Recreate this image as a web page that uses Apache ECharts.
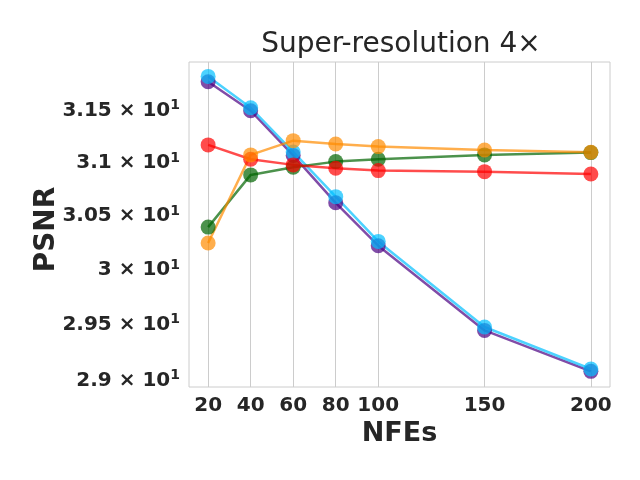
<!DOCTYPE html>
<html>
<head>
<meta charset="utf-8">
<script src="https://cdn.jsdelivr.net/npm/echarts@6/dist/echarts.min.js"></script>
<style>
  html, body { margin: 0; padding: 0; background: #ffffff; }
  #main { width: 640px; height: 480px; }
</style>
</head>
<body>
<div id="main"></div>
<script>
// NFEs on the x axis
var nfes = [20, 40, 60, 80, 100, 150, 200];

// PSNR values (log y axis)
var psnrPurple = [31.757, 31.476, 31.048, 30.600, 30.200, 29.426, 29.059];
var psnrCyan   = [31.809, 31.505, 31.081, 30.658, 30.240, 29.457, 29.080];
var psnrGreen  = [30.373, 30.863, 30.936, 30.989, 31.012, 31.053, 31.075];
var psnrRed    = [31.148, 31.012, 30.958, 30.926, 30.904, 30.894, 30.872];
var psnrOrange = [30.226, 31.053, 31.189, 31.157, 31.132, 31.100, 31.078];

var yTicks = [29, 29.5, 30, 30.5, 31, 31.5];

var chartDom = document.getElementById('main');
var myChart = echarts.init(chartDom, null, { renderer: 'canvas' });

function pairs(vals) {
    return nfes.map(function (x, i) { return [x, vals[i]]; });
}

function makeSeries(vals, color) {
    return {
        type: 'line',
        data: pairs(vals),
        symbol: 'circle',
        symbolSize: 15,
        itemStyle: { color: color, opacity: 0.7 },
        lineStyle: { color: color, width: 2.5, opacity: 0.7 },
        emphasis: { disabled: true },
        silent: true
    };
}

var labelColor = '#262626';

var option = {
    animation: false,
    backgroundColor: '#ffffff',
    title: {
        text: 'Super-resolution 4×',
        left: 396,
        top: 26,
        textAlign: 'center',
        textStyle: {
            fontFamily: 'DejaVu Sans',
            fontSize: 28,
            fontWeight: 'normal',
            color: labelColor
        }
    },
    grid: {
        left: 189,
        right: 30,
        top: 62,
        bottom: 93,
        show: true,
        borderColor: '#cccccc',
        borderWidth: 1
    },
    xAxis: {
        type: 'value',
        min: 11,
        max: 209,
        name: 'NFEs',
        nameLocation: 'middle',
        nameGap: 33,
        nameMoveOverlap: false,
        nameTextStyle: {
            fontFamily: 'DejaVu Sans',
            fontSize: 27,
            fontWeight: 'bold',
            color: labelColor
        },
        axisLine: { show: false },
        axisTick: { show: false, customValues: nfes },
        splitLine: { show: true, lineStyle: { color: '#cccccc', width: 1 } },
        axisLabel: {
            customValues: nfes,
            margin: 9,
            fontFamily: 'DejaVu Sans',
            fontSize: 20,
            fontWeight: 'bold',
            color: labelColor
        }
    },
    yAxis: {
        type: 'log',
        min: 28.92,
        max: 31.95,
        name: 'PSNR',
        nameLocation: 'middle',
        nameGap: 128,
        nameMoveOverlap: false,
        nameTextStyle: {
            fontFamily: 'DejaVu Sans',
            fontSize: 28,
            fontWeight: 'bold',
            color: labelColor,
            padding: [0, 10, 0, 0]
        },
        axisLine: { show: false },
        axisTick: { show: false, customValues: yTicks },
        splitLine: { show: false },
        axisLabel: {
            customValues: yTicks,
            margin: 9,
            padding: [5, 0, 0, 0],
            color: labelColor,
            formatter: function (value) {
                var m = parseFloat((value / 10).toFixed(3));
                return '{m|' + m + ' × 10}{s|1}';
            },
            rich: {
                m: {
                    fontFamily: 'DejaVu Sans',
                    fontSize: 20,
                    fontWeight: 'bold',
                    color: labelColor,
                    lineHeight: 24
                },
                s: {
                    fontFamily: 'DejaVu Sans',
                    fontSize: 14,
                    fontWeight: 'bold',
                    color: labelColor,
                    verticalAlign: 'top',
                    lineHeight: 24
                }
            }
        }
    },
    series: [
        makeSeries(psnrPurple, '#4b0082'),
        makeSeries(psnrCyan, '#00bfff'),
        makeSeries(psnrGreen, '#006400'),
        makeSeries(psnrRed, '#ff0000'),
        makeSeries(psnrOrange, '#ff8c00')
    ]
};

myChart.setOption(option);
</script>
</body>
</html>
